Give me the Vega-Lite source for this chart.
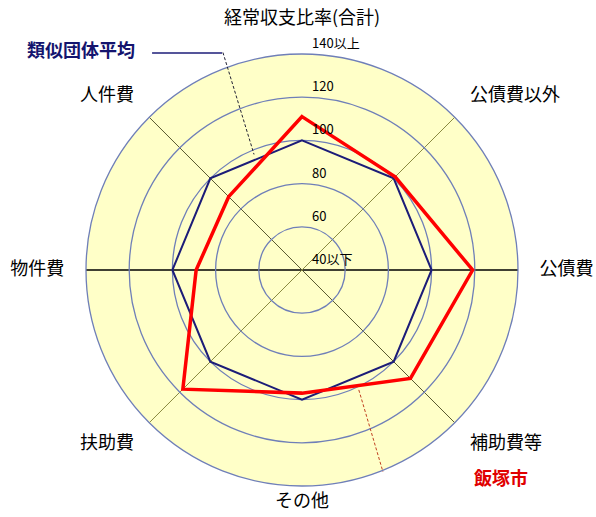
{
  "$schema": "https://vega.github.io/schema/vega-lite/v6.json",
  "width": 596,
  "height": 517,
  "padding": 0,
  "autosize": {"type": "none"},
  "background": "white",
  "config": {"view": {"stroke": null}, "font": "Noto Sans CJK JP", "text": {"font": "Noto Sans CJK JP"}},
  "datasets": {
    "radar": [
      {"series": "飯塚市", "item": "経常収支比率(合計)", "value": 111},
      {"series": "飯塚市", "item": "公債費以外", "value": 101},
      {"series": "飯塚市", "item": "公債費", "value": 119},
      {"series": "飯塚市", "item": "補助費等", "value": 111},
      {"series": "飯塚市", "item": "その他", "value": 97},
      {"series": "飯塚市", "item": "扶助費", "value": 118},
      {"series": "飯塚市", "item": "物件費", "value": 89},
      {"series": "飯塚市", "item": "人件費", "value": 88},
      {"series": "類似団体平均", "item": "経常収支比率(合計)", "value": 100},
      {"series": "類似団体平均", "item": "公債費以外", "value": 100},
      {"series": "類似団体平均", "item": "公債費", "value": 100},
      {"series": "類似団体平均", "item": "補助費等", "value": 100},
      {"series": "類似団体平均", "item": "その他", "value": 100},
      {"series": "類似団体平均", "item": "扶助費", "value": 100},
      {"series": "類似団体平均", "item": "物件費", "value": 100},
      {"series": "類似団体平均", "item": "人件費", "value": 100}
    ],
    "ticks": [
      {"label": "40以下", "v": 40},
      {"label": "60", "v": 60},
      {"label": "80", "v": 80},
      {"label": "100", "v": 100},
      {"label": "120", "v": 120},
      {"label": "140以上", "v": 140}
    ],
    "one": [{}]
  },
  "layer": [
    {
      "data": {"name": "ticks"},
      "transform": [{"filter": "datum.v === 140"}, {"calculate": "datum.v - 40", "as": "r"}],
      "mark": {"type": "arc", "theta": 0, "theta2": 6.3, "fill": "#ffffc8", "stroke": null},
      "encoding": {
        "x": {"datum": 0, "type": "quantitative", "scale": {"domain": [-139.8, 136.1], "nice": false}, "axis": null},
        "y": {"datum": 0, "type": "quantitative", "scale": {"domain": [-114.35, 125], "nice": false}, "axis": null},
        "radius": {"field": "r", "type": "quantitative", "stack": null, "scale": {"type": "linear", "domain": [0, 100], "range": [0, 216], "zero": true}, "legend": null}
      }
    },
    {
      "data": {"name": "one"},
      "mark": {"type": "rule", "color": "#000000", "strokeWidth": 1.5},
      "encoding": {
        "x": {"datum": -100, "type": "quantitative", "scale": {"domain": [-139.8, 136.1], "nice": false}, "axis": null},
        "x2": {"datum": 100},
        "y": {"datum": 0, "type": "quantitative", "scale": {"domain": [-114.35, 125], "nice": false}, "axis": null},
        "y2": {"datum": 0}
      }
    },
    {
      "data": {"name": "one"},
      "mark": {"type": "rule", "color": "#5a5a30", "strokeWidth": 1},
      "encoding": {
        "x": {"datum": -70.71, "type": "quantitative", "scale": {"domain": [-139.8, 136.1], "nice": false}, "axis": null},
        "x2": {"datum": 70.71},
        "y": {"datum": 70.71, "type": "quantitative", "scale": {"domain": [-114.35, 125], "nice": false}, "axis": null},
        "y2": {"datum": -70.71}
      }
    },
    {
      "data": {"name": "one"},
      "mark": {"type": "rule", "color": "#8a8a40", "strokeWidth": 1},
      "encoding": {
        "x": {"datum": -70.71, "type": "quantitative", "scale": {"domain": [-139.8, 136.1], "nice": false}, "axis": null},
        "x2": {"datum": 70.71},
        "y": {"datum": -70.71, "type": "quantitative", "scale": {"domain": [-114.35, 125], "nice": false}, "axis": null},
        "y2": {"datum": 70.71}
      }
    },
    {
      "data": {"name": "ticks"},
      "transform": [{"filter": "datum.v > 40"}, {"calculate": "datum.v - 40", "as": "r"}],
      "mark": {"type": "arc", "theta": 0, "theta2": 6.3, "filled": false, "stroke": "#6f7fb8", "strokeWidth": 1.3},
      "encoding": {
        "x": {"datum": 0, "type": "quantitative", "scale": {"domain": [-139.8, 136.1], "nice": false}, "axis": null},
        "y": {"datum": 0, "type": "quantitative", "scale": {"domain": [-114.35, 125], "nice": false}, "axis": null},
        "radius": {"field": "r", "type": "quantitative", "stack": null, "scale": {"type": "linear", "domain": [0, 100], "range": [0, 216], "zero": true}, "legend": null}
      }
    },
    {
      "data": {"name": "radar"},
      "transform": [
        {"filter": "datum.series === '類似団体平均'"},
        {"calculate": "indexof(['経常収支比率(合計)','公債費以外','公債費','補助費等','その他','扶助費','物件費','人件費'], datum.item)", "as": "idx"},
        {"calculate": "clamp(datum.value - 40, 0, 100)", "as": "r"},
        {"calculate": "datum.r * sin(datum.idx * PI / 4)", "as": "px"},
        {"calculate": "datum.r * cos(datum.idx * PI / 4)", "as": "py"}
      ],
      "mark": {"type": "line", "interpolate": "linear-closed", "color": "#1c1c78", "strokeWidth": 2},
      "encoding": {
        "x": {"field": "px", "type": "quantitative", "scale": {"domain": [-139.8, 136.1], "nice": false}, "axis": null},
        "y": {"field": "py", "type": "quantitative", "scale": {"domain": [-114.35, 125], "nice": false}, "axis": null},
        "order": {"field": "idx", "type": "quantitative"}
      }
    },
    {
      "data": {"name": "radar"},
      "transform": [
        {"filter": "datum.series === '飯塚市'"},
        {"calculate": "indexof(['経常収支比率(合計)','公債費以外','公債費','補助費等','その他','扶助費','物件費','人件費'], datum.item)", "as": "idx"},
        {"calculate": "clamp(datum.value - 40, 0, 100)", "as": "r"},
        {"calculate": "datum.r * sin(datum.idx * PI / 4)", "as": "px"},
        {"calculate": "datum.r * cos(datum.idx * PI / 4)", "as": "py"}
      ],
      "mark": {"type": "line", "interpolate": "linear-closed", "color": "#ff0000", "strokeWidth": 3.5},
      "encoding": {
        "x": {"field": "px", "type": "quantitative", "scale": {"domain": [-139.8, 136.1], "nice": false}, "axis": null},
        "y": {"field": "py", "type": "quantitative", "scale": {"domain": [-114.35, 125], "nice": false}, "axis": null},
        "order": {"field": "idx", "type": "quantitative"}
      }
    },
    {
      "data": {"name": "ticks"},
      "transform": [{"calculate": "datum.v - 40", "as": "r"}],
      "mark": {"type": "text", "align": "left", "baseline": "middle", "dx": 10, "dy": -10, "fontSize": 13, "color": "#000000"},
      "encoding": {
        "x": {"datum": 0, "type": "quantitative", "scale": {"domain": [-139.8, 136.1], "nice": false}, "axis": null},
        "y": {"field": "r", "type": "quantitative", "scale": {"domain": [-114.35, 125], "nice": false}, "axis": null},
        "text": {"field": "label"}
      }
    },
    {
      "data": {"name": "radar"},
      "transform": [
        {"filter": "datum.series === '飯塚市'"},
        {"calculate": "indexof(['経常収支比率(合計)','公債費以外','公債費','補助費等','その他','扶助費','物件費','人件費'], datum.item)", "as": "idx"},
        {"filter": "datum.idx >= 1 && datum.idx <= 3"},
        {"calculate": "110 * sin(datum.idx * PI / 4)", "as": "lx"},
        {"calculate": "114 * cos(datum.idx * PI / 4)", "as": "ly"}
      ],
      "mark": {"type": "text", "align": "left", "baseline": "middle", "fontSize": 18, "color": "#000000"},
      "encoding": {
        "x": {"field": "lx", "type": "quantitative", "scale": {"domain": [-139.8, 136.1], "nice": false}, "axis": null},
        "y": {"field": "ly", "type": "quantitative", "scale": {"domain": [-114.35, 125], "nice": false}, "axis": null},
        "text": {"field": "item"}
      }
    },
    {
      "data": {"name": "radar"},
      "transform": [
        {"filter": "datum.series === '飯塚市'"},
        {"calculate": "indexof(['経常収支比率(合計)','公債費以外','公債費','補助費等','その他','扶助費','物件費','人件費'], datum.item)", "as": "idx"},
        {"filter": "datum.idx >= 5 && datum.idx <= 7"},
        {"calculate": "110 * sin(datum.idx * PI / 4)", "as": "lx"},
        {"calculate": "114 * cos(datum.idx * PI / 4)", "as": "ly"}
      ],
      "mark": {"type": "text", "align": "right", "baseline": "middle", "fontSize": 18, "color": "#000000"},
      "encoding": {
        "x": {"field": "lx", "type": "quantitative", "scale": {"domain": [-139.8, 136.1], "nice": false}, "axis": null},
        "y": {"field": "ly", "type": "quantitative", "scale": {"domain": [-114.35, 125], "nice": false}, "axis": null},
        "text": {"field": "item"}
      }
    },
    {
      "data": {"name": "radar"},
      "transform": [
        {"filter": "datum.series === '飯塚市'"},
        {"calculate": "indexof(['経常収支比率(合計)','公債費以外','公債費','補助費等','その他','扶助費','物件費','人件費'], datum.item)", "as": "idx"},
        {"filter": "datum.idx === 0 || datum.idx === 4"},
        {"calculate": "112 * cos(datum.idx * PI / 4)", "as": "ly"}
      ],
      "mark": {"type": "text", "align": "center", "baseline": "middle", "dy": -9.5, "fontSize": 18, "color": "#000000"},
      "encoding": {
        "x": {"datum": 0, "type": "quantitative", "scale": {"domain": [-139.8, 136.1], "nice": false}, "axis": null},
        "y": {"field": "ly", "type": "quantitative", "scale": {"domain": [-114.35, 125], "nice": false}, "axis": null},
        "text": {"field": "item"}
      }
    },
    {
      "data": {"name": "one"},
      "mark": {"type": "rule", "color": "#1c1c78", "strokeWidth": 1.5},
      "encoding": {
        "x": {"datum": -69.4, "type": "quantitative", "scale": {"domain": [-139.8, 136.1], "nice": false}, "axis": null},
        "x2": {"datum": -37.0},
        "y": {"datum": 100.5, "type": "quantitative", "scale": {"domain": [-114.35, 125], "nice": false}, "axis": null},
        "y2": {"datum": 100.5}
      }
    },
    {
      "data": {"name": "one"},
      "mark": {"type": "rule", "color": "#222233", "strokeWidth": 1, "strokeDash": [3, 2]},
      "encoding": {
        "x": {"datum": -36.6, "type": "quantitative", "scale": {"domain": [-139.8, 136.1], "nice": false}, "axis": null},
        "x2": {"datum": -22.2},
        "y": {"datum": 100.7, "type": "quantitative", "scale": {"domain": [-114.35, 125], "nice": false}, "axis": null},
        "y2": {"datum": 53.5}
      }
    },
    {
      "data": {"name": "one"},
      "mark": {"type": "rule", "color": "#c04020", "strokeWidth": 1, "strokeDash": [3, 2]},
      "encoding": {
        "x": {"datum": 26.3, "type": "quantitative", "scale": {"domain": [-139.8, 136.1], "nice": false}, "axis": null},
        "x2": {"datum": 37.5},
        "y": {"datum": -55.5, "type": "quantitative", "scale": {"domain": [-114.35, 125], "nice": false}, "axis": null},
        "y2": {"datum": -93.5}
      }
    },
    {
      "data": {"name": "one"},
      "mark": {"type": "text", "align": "center", "baseline": "middle", "fontSize": 18, "fontWeight": "bold", "color": "#14146e"},
      "encoding": {
        "x": {"datum": -102.3, "type": "quantitative", "scale": {"domain": [-139.8, 136.1], "nice": false}, "axis": null},
        "y": {"datum": 100.9, "type": "quantitative", "scale": {"domain": [-114.35, 125], "nice": false}, "axis": null},
        "text": {"value": "類似団体平均"}
      }
    },
    {
      "data": {"name": "one"},
      "mark": {"type": "text", "align": "center", "baseline": "middle", "fontSize": 18, "fontWeight": "bold", "color": "#e00000"},
      "encoding": {
        "x": {"datum": 92.1, "type": "quantitative", "scale": {"domain": [-139.8, 136.1], "nice": false}, "axis": null},
        "y": {"datum": -97.2, "type": "quantitative", "scale": {"domain": [-114.35, 125], "nice": false}, "axis": null},
        "text": {"value": "飯塚市"}
      }
    }
  ]
}
